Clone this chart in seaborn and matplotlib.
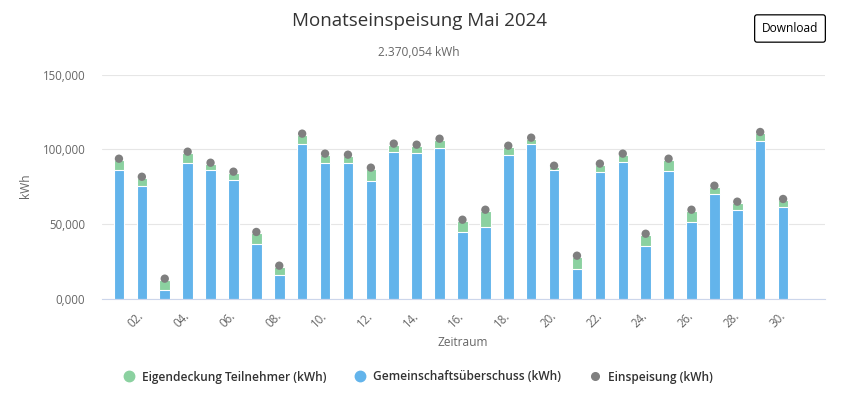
import matplotlib
matplotlib.use('Agg')
import matplotlib.pyplot as plt
import seaborn as sns
import pandas as pd
from matplotlib.lines import Line2D
from matplotlib.ticker import FuncFormatter

days = list(range(1, 31))
ueberschuss = [85.9, 75.6, 5.5, 91.0, 85.9, 79.2, 36.7, 16.0, 103.8, 91.0,
               90.6, 78.6, 98.4, 97.7, 101.1, 44.8, 48.1, 96.0, 103.4, 85.9,
               20.0, 84.6, 91.7, 35.4, 85.7, 51.5, 70.2, 59.5, 105.8, 61.5]
eigendeckung = [6.7, 5.0, 6.7, 6.5, 4.2, 4.9, 7.0, 5.1, 5.8, 5.2,
                4.9, 8.0, 4.5, 4.5, 5.1, 6.9, 10.5, 5.3, 3.5, 2.2,
                7.8, 4.9, 4.5, 7.2, 7.1, 7.1, 4.5, 4.5, 4.9, 4.3]
einspeisung = [93.7, 81.6, 13.3, 98.4, 91.0, 85.0, 44.6, 22.0, 110.5, 97.1,
               96.4, 87.7, 103.8, 103.1, 107.1, 52.8, 59.5, 102.4, 107.8, 89.0,
               28.7, 90.4, 97.1, 43.4, 93.7, 59.5, 75.6, 64.9, 111.6, 66.7]
tick_days = list(range(2, 31, 2))
tick_labels = [f"{d:02d}." for d in tick_days]
y_ticks = [0, 50, 100, 150]

title = "Monatseinspeisung Mai 2024"
subtitle = "2.370,054 kWh"
legend_labels = ["Eigendeckung Teilnehmer (kWh)", "Gemeinschaftsüberschuss (kWh)", "Einspeisung (kWh)"]

GREEN = '#8bd1a0'
BLUE = '#63b4eb'
GREY = '#7f7f7f'

df = pd.DataFrame({'tag': days, 'ueberschuss': ueberschuss, 'eigendeckung': eigendeckung,
                   'einspeisung': einspeisung})
df['gesamt'] = df['ueberschuss'] + df['eigendeckung']

sns.set_theme(style='white')
plt.rcParams['font.family'] = ['Open Sans', 'DejaVu Sans']

W, H = 844, 394
fig = plt.figure(figsize=(W / 100, H / 100), dpi=100)
left, right, top, bottom = 102, 825, 74.7, 298.5
ax = fig.add_axes([left / W, 1 - bottom / H, (right - left) / W, (bottom - top) / H])

sns.barplot(data=df, x='tag', y='gesamt', native_scale=True, width=0.46, color=GREEN,
            saturation=1, errorbar=None, edgecolor='white', linewidth=0.8, ax=ax, zorder=2)
sns.barplot(data=df, x='tag', y='ueberschuss', native_scale=True, width=0.46, color=BLUE,
            saturation=1, errorbar=None, edgecolor='white', linewidth=0.8, ax=ax, zorder=2)
sns.scatterplot(data=df, x='tag', y='einspeisung', color=GREY, s=36, edgecolor='none',
                ax=ax, zorder=3, legend=False)

ax.set_xlim(0.26, 31.83)
ax.set_ylim(0, 150)
ax.set_yticks(y_ticks)
ax.yaxis.set_major_formatter(FuncFormatter(lambda v, p: f"{v:.3f}".replace('.', ',')))
ax.set_xticks(tick_days)
ax.set_xticklabels(tick_labels, rotation=45, ha='right', va='center', rotation_mode='anchor')
ax.tick_params(axis='x', length=7, width=0.8, color='#ccd6eb', pad=4, labelsize=8.3, labelcolor='#666666')
ax.tick_params(axis='y', length=0, pad=12, labelsize=8.3, labelcolor='#666666')
ax.grid(axis='y', color='#e6e6e6', linewidth=0.8, zorder=0)
ax.set_axisbelow(True)
for s in ['left', 'right', 'top']:
    ax.spines[s].set_visible(False)
ax.spines['bottom'].set_color('#ccd6eb')
ax.spines['bottom'].set_linewidth(0.8)
ax.set_xlabel('')
ax.set_ylabel('')

fig.text(463 / W, 1 - 342 / H, 'Zeitraum', ha='center', va='center', fontsize=8.6, color='#666666')
fig.text(25 / W, 1 - 186 / H, 'kWh', ha='center', va='center', rotation=90, fontsize=8.6, color='#666666')
fig.text(419 / W, 1 - 21 / H, title, ha='center', va='center', fontsize=13.5, color='#333333')
fig.text(419 / W, 1 - 52 / H, subtitle, ha='center', va='center', fontsize=8.6, color='#666666')
fig.text(790 / W, 1 - 28.5 / H, 'Download', ha='center', va='center', fontsize=8.6, color='#000000',
         bbox=dict(boxstyle='round,pad=0.6,rounding_size=0.2', fc='white', ec='black', lw=0.9))

handles = [Line2D([], [], marker='o', ls='none', color=GREEN, markersize=7.5),
           Line2D([], [], marker='o', ls='none', color=BLUE, markersize=7.5),
           Line2D([], [], marker='o', ls='none', color=GREY, markersize=5.5)]
fig.legend(handles, legend_labels, loc='center', bbox_to_anchor=(418 / W, 1 - 377 / H), ncol=3,
           frameon=False, prop=dict(weight='semibold', size=8.6), labelcolor='#333333',
           handletextpad=0.6, columnspacing=2.3, handlelength=1.0)

fig.savefig('out.png', dpi=100)
